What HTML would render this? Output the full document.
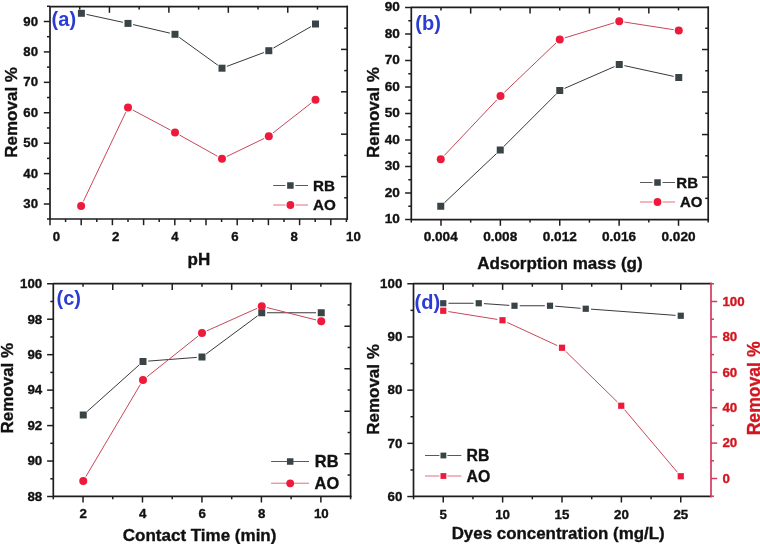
<!DOCTYPE html>
<html><head><meta charset="utf-8"><style>
html,body{margin:0;padding:0;background:#fff;}
body{width:760px;height:544px;overflow:hidden;}
svg{display:block;will-change:transform;}
text{font-family:"Liberation Sans",sans-serif;font-weight:bold;}
</style></head><body>
<svg width="760" height="544" viewBox="0 0 760 544">
<rect width="760" height="544" fill="#fff"/>
<path d="M347.2,6.6 H50 V219 H347.2" stroke="#1e1e1e" stroke-width="1.7" fill="none" stroke-linecap="square" stroke-linejoin="round"/>
<path d="M347.2,6.6 V219" stroke="#1e1e1e" stroke-width="1.7" fill="none" stroke-linecap="square"/>
<line x1="43.80" y1="21.50" x2="50.00" y2="21.50" stroke="#1e1e1e" stroke-width="1.5"/>
<line x1="43.80" y1="51.92" x2="50.00" y2="51.92" stroke="#1e1e1e" stroke-width="1.5"/>
<line x1="43.80" y1="82.34" x2="50.00" y2="82.34" stroke="#1e1e1e" stroke-width="1.5"/>
<line x1="43.80" y1="112.76" x2="50.00" y2="112.76" stroke="#1e1e1e" stroke-width="1.5"/>
<line x1="43.80" y1="143.18" x2="50.00" y2="143.18" stroke="#1e1e1e" stroke-width="1.5"/>
<line x1="43.80" y1="173.60" x2="50.00" y2="173.60" stroke="#1e1e1e" stroke-width="1.5"/>
<line x1="43.80" y1="204.02" x2="50.00" y2="204.02" stroke="#1e1e1e" stroke-width="1.5"/>
<line x1="47.00" y1="36.71" x2="50.00" y2="36.71" stroke="#1e1e1e" stroke-width="1.5"/>
<line x1="47.00" y1="67.13" x2="50.00" y2="67.13" stroke="#1e1e1e" stroke-width="1.5"/>
<line x1="47.00" y1="97.55" x2="50.00" y2="97.55" stroke="#1e1e1e" stroke-width="1.5"/>
<line x1="47.00" y1="127.97" x2="50.00" y2="127.97" stroke="#1e1e1e" stroke-width="1.5"/>
<line x1="47.00" y1="158.39" x2="50.00" y2="158.39" stroke="#1e1e1e" stroke-width="1.5"/>
<line x1="47.00" y1="188.81" x2="50.00" y2="188.81" stroke="#1e1e1e" stroke-width="1.5"/>
<line x1="47.00" y1="6.29" x2="50.00" y2="6.29" stroke="#1e1e1e" stroke-width="1.5"/>
<line x1="47.00" y1="219.00" x2="50.00" y2="219.00" stroke="#1e1e1e" stroke-width="1.5"/>
<text x="38.00" y="25.63" font-size="13.2" text-anchor="end" fill="#111" stroke="#111" stroke-width="0.35">90</text>
<text x="38.00" y="56.05" font-size="13.2" text-anchor="end" fill="#111" stroke="#111" stroke-width="0.35">80</text>
<text x="38.00" y="86.47" font-size="13.2" text-anchor="end" fill="#111" stroke="#111" stroke-width="0.35">70</text>
<text x="38.00" y="116.89" font-size="13.2" text-anchor="end" fill="#111" stroke="#111" stroke-width="0.35">60</text>
<text x="38.00" y="147.31" font-size="13.2" text-anchor="end" fill="#111" stroke="#111" stroke-width="0.35">50</text>
<text x="38.00" y="177.73" font-size="13.2" text-anchor="end" fill="#111" stroke="#111" stroke-width="0.35">40</text>
<text x="38.00" y="208.15" font-size="13.2" text-anchor="end" fill="#111" stroke="#111" stroke-width="0.35">30</text>
<line x1="50.00" y1="219.00" x2="50.00" y2="225.20" stroke="#1e1e1e" stroke-width="1.5"/>
<line x1="81.20" y1="219.00" x2="81.20" y2="225.20" stroke="#1e1e1e" stroke-width="1.5"/>
<line x1="112.40" y1="219.00" x2="112.40" y2="225.20" stroke="#1e1e1e" stroke-width="1.5"/>
<line x1="143.60" y1="219.00" x2="143.60" y2="225.20" stroke="#1e1e1e" stroke-width="1.5"/>
<line x1="174.80" y1="219.00" x2="174.80" y2="225.20" stroke="#1e1e1e" stroke-width="1.5"/>
<line x1="206.00" y1="219.00" x2="206.00" y2="225.20" stroke="#1e1e1e" stroke-width="1.5"/>
<line x1="237.20" y1="219.00" x2="237.20" y2="225.20" stroke="#1e1e1e" stroke-width="1.5"/>
<line x1="268.40" y1="219.00" x2="268.40" y2="225.20" stroke="#1e1e1e" stroke-width="1.5"/>
<line x1="299.60" y1="219.00" x2="299.60" y2="225.20" stroke="#1e1e1e" stroke-width="1.5"/>
<line x1="330.80" y1="219.00" x2="330.80" y2="225.20" stroke="#1e1e1e" stroke-width="1.5"/>
<line x1="65.60" y1="219.00" x2="65.60" y2="222.00" stroke="#1e1e1e" stroke-width="1.5"/>
<line x1="96.80" y1="219.00" x2="96.80" y2="222.00" stroke="#1e1e1e" stroke-width="1.5"/>
<line x1="128.00" y1="219.00" x2="128.00" y2="222.00" stroke="#1e1e1e" stroke-width="1.5"/>
<line x1="159.20" y1="219.00" x2="159.20" y2="222.00" stroke="#1e1e1e" stroke-width="1.5"/>
<line x1="190.40" y1="219.00" x2="190.40" y2="222.00" stroke="#1e1e1e" stroke-width="1.5"/>
<line x1="221.60" y1="219.00" x2="221.60" y2="222.00" stroke="#1e1e1e" stroke-width="1.5"/>
<line x1="252.80" y1="219.00" x2="252.80" y2="222.00" stroke="#1e1e1e" stroke-width="1.5"/>
<line x1="284.00" y1="219.00" x2="284.00" y2="222.00" stroke="#1e1e1e" stroke-width="1.5"/>
<line x1="315.20" y1="219.00" x2="315.20" y2="222.00" stroke="#1e1e1e" stroke-width="1.5"/>
<line x1="346.40" y1="219.00" x2="346.40" y2="222.00" stroke="#1e1e1e" stroke-width="1.5"/>
<text x="56.30" y="241.30" font-size="13.2" text-anchor="middle" fill="#111" stroke="#111" stroke-width="0.35">0</text>
<text x="115.60" y="241.30" font-size="13.2" text-anchor="middle" fill="#111" stroke="#111" stroke-width="0.35">2</text>
<text x="174.90" y="241.30" font-size="13.2" text-anchor="middle" fill="#111" stroke="#111" stroke-width="0.35">4</text>
<text x="235.00" y="241.30" font-size="13.2" text-anchor="middle" fill="#111" stroke="#111" stroke-width="0.35">6</text>
<text x="294.20" y="241.30" font-size="13.2" text-anchor="middle" fill="#111" stroke="#111" stroke-width="0.35">8</text>
<text x="353.40" y="241.30" font-size="13.2" text-anchor="middle" fill="#111" stroke="#111" stroke-width="0.35">10</text>
<line x1="109.44" y1="6.60" x2="109.44" y2="12.80" stroke="#1e1e1e" stroke-width="1.5"/>
<line x1="168.88" y1="6.60" x2="168.88" y2="12.80" stroke="#1e1e1e" stroke-width="1.5"/>
<line x1="228.32" y1="6.60" x2="228.32" y2="12.80" stroke="#1e1e1e" stroke-width="1.5"/>
<line x1="287.76" y1="6.60" x2="287.76" y2="12.80" stroke="#1e1e1e" stroke-width="1.5"/>
<line x1="79.72" y1="6.60" x2="79.72" y2="9.60" stroke="#1e1e1e" stroke-width="1.5"/>
<line x1="139.16" y1="6.60" x2="139.16" y2="9.60" stroke="#1e1e1e" stroke-width="1.5"/>
<line x1="198.60" y1="6.60" x2="198.60" y2="9.60" stroke="#1e1e1e" stroke-width="1.5"/>
<line x1="258.04" y1="6.60" x2="258.04" y2="9.60" stroke="#1e1e1e" stroke-width="1.5"/>
<line x1="317.48" y1="6.60" x2="317.48" y2="9.60" stroke="#1e1e1e" stroke-width="1.5"/>
<line x1="344.20" y1="28.20" x2="347.20" y2="28.20" stroke="#1e1e1e" stroke-width="1.5"/>
<line x1="341.00" y1="49.40" x2="347.20" y2="49.40" stroke="#1e1e1e" stroke-width="1.5"/>
<line x1="344.20" y1="70.60" x2="347.20" y2="70.60" stroke="#1e1e1e" stroke-width="1.5"/>
<line x1="341.00" y1="91.80" x2="347.20" y2="91.80" stroke="#1e1e1e" stroke-width="1.5"/>
<line x1="344.20" y1="113.00" x2="347.20" y2="113.00" stroke="#1e1e1e" stroke-width="1.5"/>
<line x1="341.00" y1="134.20" x2="347.20" y2="134.20" stroke="#1e1e1e" stroke-width="1.5"/>
<line x1="344.20" y1="155.40" x2="347.20" y2="155.40" stroke="#1e1e1e" stroke-width="1.5"/>
<line x1="341.00" y1="176.60" x2="347.20" y2="176.60" stroke="#1e1e1e" stroke-width="1.5"/>
<line x1="344.20" y1="197.80" x2="347.20" y2="197.80" stroke="#1e1e1e" stroke-width="1.5"/>
<line x1="86.48" y1="14.40" x2="122.92" y2="22.30" stroke="#3a3a3a" stroke-width="1.0"/>
<line x1="133.07" y1="24.57" x2="169.93" y2="33.13" stroke="#3a3a3a" stroke-width="1.0"/>
<line x1="179.22" y1="37.34" x2="217.78" y2="65.16" stroke="#3a3a3a" stroke-width="1.0"/>
<line x1="226.87" y1="66.38" x2="263.93" y2="52.52" stroke="#3a3a3a" stroke-width="1.0"/>
<line x1="273.31" y1="48.12" x2="310.99" y2="26.58" stroke="#3a3a3a" stroke-width="1.0"/>
<line x1="83.33" y1="201.40" x2="125.77" y2="112.20" stroke="#c8485a" stroke-width="1.0"/>
<line x1="132.59" y1="109.94" x2="170.41" y2="130.06" stroke="#c8485a" stroke-width="1.0"/>
<line x1="179.54" y1="135.04" x2="217.46" y2="156.26" stroke="#c8485a" stroke-width="1.0"/>
<line x1="226.68" y1="156.54" x2="264.12" y2="138.46" stroke="#c8485a" stroke-width="1.0"/>
<line x1="272.90" y1="133.00" x2="311.40" y2="102.90" stroke="#c8485a" stroke-width="1.0"/>
<rect x="77.90" y="9.80" width="7" height="7" fill="#3a4446"/>
<rect x="124.50" y="19.90" width="7" height="7" fill="#3a4446"/>
<rect x="171.50" y="30.80" width="7" height="7" fill="#3a4446"/>
<rect x="218.50" y="64.70" width="7" height="7" fill="#3a4446"/>
<rect x="265.30" y="47.20" width="7" height="7" fill="#3a4446"/>
<rect x="312.00" y="20.50" width="7" height="7" fill="#3a4446"/>
<circle cx="81.10" cy="206.10" r="4.0" fill="#ee1a3c"/>
<circle cx="128.00" cy="107.50" r="4.0" fill="#ee1a3c"/>
<circle cx="175.00" cy="132.50" r="4.0" fill="#ee1a3c"/>
<circle cx="222.00" cy="158.80" r="4.0" fill="#ee1a3c"/>
<circle cx="268.80" cy="136.20" r="4.0" fill="#ee1a3c"/>
<circle cx="315.50" cy="99.70" r="4.0" fill="#ee1a3c"/>
<line x1="273.20" y1="185.50" x2="285.40" y2="185.50" stroke="#5a5a5a" stroke-width="1.0"/>
<line x1="295.40" y1="185.50" x2="308.00" y2="185.50" stroke="#5a5a5a" stroke-width="1.0"/>
<rect x="287.15" y="182.25" width="6.5" height="6.5" fill="#3a4446"/>
<line x1="273.20" y1="205.00" x2="285.40" y2="205.00" stroke="#e89aa4" stroke-width="1.4"/>
<line x1="295.40" y1="205.00" x2="308.00" y2="205.00" stroke="#e89aa4" stroke-width="1.4"/>
<circle cx="290.40" cy="205.00" r="3.9" fill="#ee1a3c"/>
<text x="313.00" y="190.97" font-size="15.2" text-anchor="start" fill="#111" stroke="#111" stroke-width="0.35">RB</text>
<text x="313.00" y="210.47" font-size="15.2" text-anchor="start" fill="#111" stroke="#111" stroke-width="0.35">AO</text>
<text x="51.60" y="26.00" font-size="20" text-anchor="start" fill="#2a3cd4">(a)</text>
<text x="0" y="0" font-size="17.0" text-anchor="middle" fill="#111" stroke="#111" stroke-width="0.35" transform="translate(16.60,112.40) rotate(-90)">Removal %</text>
<text x="198.90" y="265.00" font-size="17.0" text-anchor="middle" fill="#111" stroke="#111" stroke-width="0.35">pH</text>
<path d="M708.2,7.4 H411.3 V219.6 H708.2" stroke="#1e1e1e" stroke-width="1.7" fill="none" stroke-linecap="square" stroke-linejoin="round"/>
<path d="M708.2,7.4 V219.6" stroke="#1e1e1e" stroke-width="1.7" fill="none" stroke-linecap="square"/>
<line x1="405.10" y1="7.50" x2="411.30" y2="7.50" stroke="#1e1e1e" stroke-width="1.5"/>
<line x1="405.10" y1="34.00" x2="411.30" y2="34.00" stroke="#1e1e1e" stroke-width="1.5"/>
<line x1="405.10" y1="60.50" x2="411.30" y2="60.50" stroke="#1e1e1e" stroke-width="1.5"/>
<line x1="405.10" y1="87.00" x2="411.30" y2="87.00" stroke="#1e1e1e" stroke-width="1.5"/>
<line x1="405.10" y1="113.50" x2="411.30" y2="113.50" stroke="#1e1e1e" stroke-width="1.5"/>
<line x1="405.10" y1="140.00" x2="411.30" y2="140.00" stroke="#1e1e1e" stroke-width="1.5"/>
<line x1="405.10" y1="166.50" x2="411.30" y2="166.50" stroke="#1e1e1e" stroke-width="1.5"/>
<line x1="405.10" y1="193.00" x2="411.30" y2="193.00" stroke="#1e1e1e" stroke-width="1.5"/>
<line x1="405.10" y1="219.50" x2="411.30" y2="219.50" stroke="#1e1e1e" stroke-width="1.5"/>
<line x1="408.30" y1="20.75" x2="411.30" y2="20.75" stroke="#1e1e1e" stroke-width="1.5"/>
<line x1="408.30" y1="47.25" x2="411.30" y2="47.25" stroke="#1e1e1e" stroke-width="1.5"/>
<line x1="408.30" y1="73.75" x2="411.30" y2="73.75" stroke="#1e1e1e" stroke-width="1.5"/>
<line x1="408.30" y1="100.25" x2="411.30" y2="100.25" stroke="#1e1e1e" stroke-width="1.5"/>
<line x1="408.30" y1="126.75" x2="411.30" y2="126.75" stroke="#1e1e1e" stroke-width="1.5"/>
<line x1="408.30" y1="153.25" x2="411.30" y2="153.25" stroke="#1e1e1e" stroke-width="1.5"/>
<line x1="408.30" y1="179.75" x2="411.30" y2="179.75" stroke="#1e1e1e" stroke-width="1.5"/>
<line x1="408.30" y1="206.25" x2="411.30" y2="206.25" stroke="#1e1e1e" stroke-width="1.5"/>
<text x="399.80" y="11.47" font-size="13.6" text-anchor="end" fill="#111" stroke="#111" stroke-width="0.35">90</text>
<text x="399.80" y="37.97" font-size="13.6" text-anchor="end" fill="#111" stroke="#111" stroke-width="0.35">80</text>
<text x="399.80" y="64.47" font-size="13.6" text-anchor="end" fill="#111" stroke="#111" stroke-width="0.35">70</text>
<text x="399.80" y="90.97" font-size="13.6" text-anchor="end" fill="#111" stroke="#111" stroke-width="0.35">60</text>
<text x="399.80" y="117.47" font-size="13.6" text-anchor="end" fill="#111" stroke="#111" stroke-width="0.35">50</text>
<text x="399.80" y="143.97" font-size="13.6" text-anchor="end" fill="#111" stroke="#111" stroke-width="0.35">40</text>
<text x="399.80" y="170.47" font-size="13.6" text-anchor="end" fill="#111" stroke="#111" stroke-width="0.35">30</text>
<text x="399.80" y="196.97" font-size="13.6" text-anchor="end" fill="#111" stroke="#111" stroke-width="0.35">20</text>
<text x="399.80" y="223.47" font-size="13.6" text-anchor="end" fill="#111" stroke="#111" stroke-width="0.35">10</text>
<line x1="440.99" y1="219.60" x2="440.99" y2="225.80" stroke="#1e1e1e" stroke-width="1.5"/>
<line x1="500.37" y1="219.60" x2="500.37" y2="225.80" stroke="#1e1e1e" stroke-width="1.5"/>
<line x1="559.75" y1="219.60" x2="559.75" y2="225.80" stroke="#1e1e1e" stroke-width="1.5"/>
<line x1="619.13" y1="219.60" x2="619.13" y2="225.80" stroke="#1e1e1e" stroke-width="1.5"/>
<line x1="678.51" y1="219.60" x2="678.51" y2="225.80" stroke="#1e1e1e" stroke-width="1.5"/>
<line x1="411.30" y1="219.60" x2="411.30" y2="222.60" stroke="#1e1e1e" stroke-width="1.5"/>
<line x1="470.68" y1="219.60" x2="470.68" y2="222.60" stroke="#1e1e1e" stroke-width="1.5"/>
<line x1="530.06" y1="219.60" x2="530.06" y2="222.60" stroke="#1e1e1e" stroke-width="1.5"/>
<line x1="589.44" y1="219.60" x2="589.44" y2="222.60" stroke="#1e1e1e" stroke-width="1.5"/>
<line x1="648.82" y1="219.60" x2="648.82" y2="222.60" stroke="#1e1e1e" stroke-width="1.5"/>
<line x1="708.20" y1="219.60" x2="708.20" y2="222.60" stroke="#1e1e1e" stroke-width="1.5"/>
<text x="440.70" y="241.30" font-size="13.6" text-anchor="middle" fill="#111" stroke="#111" stroke-width="0.35">0.004</text>
<text x="500.20" y="241.30" font-size="13.6" text-anchor="middle" fill="#111" stroke="#111" stroke-width="0.35">0.008</text>
<text x="559.80" y="241.30" font-size="13.6" text-anchor="middle" fill="#111" stroke="#111" stroke-width="0.35">0.012</text>
<text x="619.00" y="241.30" font-size="13.6" text-anchor="middle" fill="#111" stroke="#111" stroke-width="0.35">0.016</text>
<text x="678.50" y="241.30" font-size="13.6" text-anchor="middle" fill="#111" stroke="#111" stroke-width="0.35">0.020</text>
<line x1="470.68" y1="7.40" x2="470.68" y2="13.60" stroke="#1e1e1e" stroke-width="1.5"/>
<line x1="530.06" y1="7.40" x2="530.06" y2="13.60" stroke="#1e1e1e" stroke-width="1.5"/>
<line x1="589.44" y1="7.40" x2="589.44" y2="13.60" stroke="#1e1e1e" stroke-width="1.5"/>
<line x1="648.82" y1="7.40" x2="648.82" y2="13.60" stroke="#1e1e1e" stroke-width="1.5"/>
<line x1="440.99" y1="7.40" x2="440.99" y2="10.40" stroke="#1e1e1e" stroke-width="1.5"/>
<line x1="500.37" y1="7.40" x2="500.37" y2="10.40" stroke="#1e1e1e" stroke-width="1.5"/>
<line x1="559.75" y1="7.40" x2="559.75" y2="10.40" stroke="#1e1e1e" stroke-width="1.5"/>
<line x1="619.13" y1="7.40" x2="619.13" y2="10.40" stroke="#1e1e1e" stroke-width="1.5"/>
<line x1="678.51" y1="7.40" x2="678.51" y2="10.40" stroke="#1e1e1e" stroke-width="1.5"/>
<line x1="705.20" y1="28.26" x2="708.20" y2="28.26" stroke="#1e1e1e" stroke-width="1.5"/>
<line x1="702.00" y1="49.52" x2="708.20" y2="49.52" stroke="#1e1e1e" stroke-width="1.5"/>
<line x1="705.20" y1="70.78" x2="708.20" y2="70.78" stroke="#1e1e1e" stroke-width="1.5"/>
<line x1="702.00" y1="92.04" x2="708.20" y2="92.04" stroke="#1e1e1e" stroke-width="1.5"/>
<line x1="705.20" y1="113.30" x2="708.20" y2="113.30" stroke="#1e1e1e" stroke-width="1.5"/>
<line x1="702.00" y1="134.56" x2="708.20" y2="134.56" stroke="#1e1e1e" stroke-width="1.5"/>
<line x1="705.20" y1="155.82" x2="708.20" y2="155.82" stroke="#1e1e1e" stroke-width="1.5"/>
<line x1="702.00" y1="177.08" x2="708.20" y2="177.08" stroke="#1e1e1e" stroke-width="1.5"/>
<line x1="705.20" y1="198.34" x2="708.20" y2="198.34" stroke="#1e1e1e" stroke-width="1.5"/>
<line x1="444.53" y1="202.68" x2="496.47" y2="153.57" stroke="#3a3a3a" stroke-width="1.0"/>
<line x1="503.93" y1="146.32" x2="556.07" y2="94.18" stroke="#3a3a3a" stroke-width="1.0"/>
<line x1="564.51" y1="88.42" x2="614.49" y2="66.58" stroke="#3a3a3a" stroke-width="1.0"/>
<line x1="624.33" y1="65.61" x2="673.67" y2="76.39" stroke="#3a3a3a" stroke-width="1.0"/>
<line x1="444.32" y1="155.47" x2="496.93" y2="99.78" stroke="#c8485a" stroke-width="1.0"/>
<line x1="504.26" y1="92.41" x2="555.99" y2="42.99" stroke="#c8485a" stroke-width="1.0"/>
<line x1="564.72" y1="37.88" x2="614.28" y2="22.77" stroke="#c8485a" stroke-width="1.0"/>
<line x1="624.39" y1="22.05" x2="673.61" y2="29.70" stroke="#c8485a" stroke-width="1.0"/>
<rect x="437.25" y="202.75" width="7" height="7" fill="#3a4446"/>
<rect x="496.75" y="146.50" width="7" height="7" fill="#3a4446"/>
<rect x="556.25" y="87.00" width="7" height="7" fill="#3a4446"/>
<rect x="615.75" y="61.00" width="7" height="7" fill="#3a4446"/>
<rect x="675.25" y="74.00" width="7" height="7" fill="#3a4446"/>
<circle cx="440.75" cy="159.25" r="4.0" fill="#ee1a3c"/>
<circle cx="500.50" cy="96.00" r="4.0" fill="#ee1a3c"/>
<circle cx="559.75" cy="39.40" r="4.0" fill="#ee1a3c"/>
<circle cx="619.25" cy="21.25" r="4.0" fill="#ee1a3c"/>
<circle cx="678.75" cy="30.50" r="4.0" fill="#ee1a3c"/>
<line x1="640.00" y1="182.50" x2="652.50" y2="182.50" stroke="#5a5a5a" stroke-width="1.0"/>
<line x1="662.50" y1="182.50" x2="675.00" y2="182.50" stroke="#5a5a5a" stroke-width="1.0"/>
<rect x="654.25" y="179.25" width="6.5" height="6.5" fill="#3a4446"/>
<line x1="640.00" y1="202.00" x2="652.50" y2="202.00" stroke="#e89aa4" stroke-width="1.4"/>
<line x1="662.50" y1="202.00" x2="675.00" y2="202.00" stroke="#e89aa4" stroke-width="1.4"/>
<circle cx="657.50" cy="202.00" r="3.9" fill="#ee1a3c"/>
<text x="676.30" y="187.90" font-size="15.0" text-anchor="start" fill="#111" stroke="#111" stroke-width="0.35">RB</text>
<text x="680.00" y="207.40" font-size="15.0" text-anchor="start" fill="#111" stroke="#111" stroke-width="0.35">AO</text>
<text x="415.30" y="29.70" font-size="20" text-anchor="start" fill="#2a3cd4">(b)</text>
<text x="0" y="0" font-size="17.0" text-anchor="middle" fill="#111" stroke="#111" stroke-width="0.35" transform="translate(379.40,112.60) rotate(-90)">Removal %</text>
<text x="560.00" y="268.80" font-size="17.0" text-anchor="middle" fill="#111" stroke="#111" stroke-width="0.35">Adsorption mass (g)</text>
<path d="M350.6,283.7 H53.3 V496.3 H350.6" stroke="#1e1e1e" stroke-width="1.7" fill="none" stroke-linecap="square" stroke-linejoin="round"/>
<path d="M350.6,283.7 V496.3" stroke="#1e1e1e" stroke-width="1.7" fill="none" stroke-linecap="square"/>
<line x1="47.10" y1="283.75" x2="53.30" y2="283.75" stroke="#1e1e1e" stroke-width="1.5"/>
<line x1="47.10" y1="319.21" x2="53.30" y2="319.21" stroke="#1e1e1e" stroke-width="1.5"/>
<line x1="47.10" y1="354.67" x2="53.30" y2="354.67" stroke="#1e1e1e" stroke-width="1.5"/>
<line x1="47.10" y1="390.13" x2="53.30" y2="390.13" stroke="#1e1e1e" stroke-width="1.5"/>
<line x1="47.10" y1="425.59" x2="53.30" y2="425.59" stroke="#1e1e1e" stroke-width="1.5"/>
<line x1="47.10" y1="461.05" x2="53.30" y2="461.05" stroke="#1e1e1e" stroke-width="1.5"/>
<line x1="47.10" y1="496.51" x2="53.30" y2="496.51" stroke="#1e1e1e" stroke-width="1.5"/>
<line x1="50.30" y1="301.48" x2="53.30" y2="301.48" stroke="#1e1e1e" stroke-width="1.5"/>
<line x1="50.30" y1="336.94" x2="53.30" y2="336.94" stroke="#1e1e1e" stroke-width="1.5"/>
<line x1="50.30" y1="372.40" x2="53.30" y2="372.40" stroke="#1e1e1e" stroke-width="1.5"/>
<line x1="50.30" y1="407.86" x2="53.30" y2="407.86" stroke="#1e1e1e" stroke-width="1.5"/>
<line x1="50.30" y1="443.32" x2="53.30" y2="443.32" stroke="#1e1e1e" stroke-width="1.5"/>
<line x1="50.30" y1="478.78" x2="53.30" y2="478.78" stroke="#1e1e1e" stroke-width="1.5"/>
<text x="42.20" y="288.11" font-size="13.3" text-anchor="end" fill="#111" stroke="#111" stroke-width="0.35">100</text>
<text x="42.20" y="323.57" font-size="13.3" text-anchor="end" fill="#111" stroke="#111" stroke-width="0.35">98</text>
<text x="42.20" y="359.03" font-size="13.3" text-anchor="end" fill="#111" stroke="#111" stroke-width="0.35">96</text>
<text x="42.20" y="394.49" font-size="13.3" text-anchor="end" fill="#111" stroke="#111" stroke-width="0.35">94</text>
<text x="42.20" y="429.95" font-size="13.3" text-anchor="end" fill="#111" stroke="#111" stroke-width="0.35">92</text>
<text x="42.20" y="465.41" font-size="13.3" text-anchor="end" fill="#111" stroke="#111" stroke-width="0.35">90</text>
<text x="42.20" y="500.87" font-size="13.3" text-anchor="end" fill="#111" stroke="#111" stroke-width="0.35">88</text>
<line x1="83.03" y1="496.30" x2="83.03" y2="502.50" stroke="#1e1e1e" stroke-width="1.5"/>
<line x1="142.49" y1="496.30" x2="142.49" y2="502.50" stroke="#1e1e1e" stroke-width="1.5"/>
<line x1="201.95" y1="496.30" x2="201.95" y2="502.50" stroke="#1e1e1e" stroke-width="1.5"/>
<line x1="261.41" y1="496.30" x2="261.41" y2="502.50" stroke="#1e1e1e" stroke-width="1.5"/>
<line x1="320.87" y1="496.30" x2="320.87" y2="502.50" stroke="#1e1e1e" stroke-width="1.5"/>
<line x1="53.30" y1="496.30" x2="53.30" y2="499.30" stroke="#1e1e1e" stroke-width="1.5"/>
<line x1="112.76" y1="496.30" x2="112.76" y2="499.30" stroke="#1e1e1e" stroke-width="1.5"/>
<line x1="172.22" y1="496.30" x2="172.22" y2="499.30" stroke="#1e1e1e" stroke-width="1.5"/>
<line x1="231.68" y1="496.30" x2="231.68" y2="499.30" stroke="#1e1e1e" stroke-width="1.5"/>
<line x1="291.14" y1="496.30" x2="291.14" y2="499.30" stroke="#1e1e1e" stroke-width="1.5"/>
<line x1="350.60" y1="496.30" x2="350.60" y2="499.30" stroke="#1e1e1e" stroke-width="1.5"/>
<text x="83.30" y="518.40" font-size="13.3" text-anchor="middle" fill="#111" stroke="#111" stroke-width="0.35">2</text>
<text x="142.80" y="518.40" font-size="13.3" text-anchor="middle" fill="#111" stroke="#111" stroke-width="0.35">4</text>
<text x="202.20" y="518.40" font-size="13.3" text-anchor="middle" fill="#111" stroke="#111" stroke-width="0.35">6</text>
<text x="261.80" y="518.40" font-size="13.3" text-anchor="middle" fill="#111" stroke="#111" stroke-width="0.35">8</text>
<text x="321.30" y="518.40" font-size="13.3" text-anchor="middle" fill="#111" stroke="#111" stroke-width="0.35">10</text>
<line x1="112.76" y1="283.70" x2="112.76" y2="289.90" stroke="#1e1e1e" stroke-width="1.5"/>
<line x1="172.22" y1="283.70" x2="172.22" y2="289.90" stroke="#1e1e1e" stroke-width="1.5"/>
<line x1="231.68" y1="283.70" x2="231.68" y2="289.90" stroke="#1e1e1e" stroke-width="1.5"/>
<line x1="291.14" y1="283.70" x2="291.14" y2="289.90" stroke="#1e1e1e" stroke-width="1.5"/>
<line x1="83.03" y1="283.70" x2="83.03" y2="286.70" stroke="#1e1e1e" stroke-width="1.5"/>
<line x1="142.49" y1="283.70" x2="142.49" y2="286.70" stroke="#1e1e1e" stroke-width="1.5"/>
<line x1="201.95" y1="283.70" x2="201.95" y2="286.70" stroke="#1e1e1e" stroke-width="1.5"/>
<line x1="261.41" y1="283.70" x2="261.41" y2="286.70" stroke="#1e1e1e" stroke-width="1.5"/>
<line x1="320.87" y1="283.70" x2="320.87" y2="286.70" stroke="#1e1e1e" stroke-width="1.5"/>
<line x1="347.60" y1="304.96" x2="350.60" y2="304.96" stroke="#1e1e1e" stroke-width="1.5"/>
<line x1="344.40" y1="326.22" x2="350.60" y2="326.22" stroke="#1e1e1e" stroke-width="1.5"/>
<line x1="347.60" y1="347.48" x2="350.60" y2="347.48" stroke="#1e1e1e" stroke-width="1.5"/>
<line x1="344.40" y1="368.74" x2="350.60" y2="368.74" stroke="#1e1e1e" stroke-width="1.5"/>
<line x1="347.60" y1="390.00" x2="350.60" y2="390.00" stroke="#1e1e1e" stroke-width="1.5"/>
<line x1="344.40" y1="411.26" x2="350.60" y2="411.26" stroke="#1e1e1e" stroke-width="1.5"/>
<line x1="347.60" y1="432.52" x2="350.60" y2="432.52" stroke="#1e1e1e" stroke-width="1.5"/>
<line x1="344.40" y1="453.78" x2="350.60" y2="453.78" stroke="#1e1e1e" stroke-width="1.5"/>
<line x1="347.60" y1="475.04" x2="350.60" y2="475.04" stroke="#1e1e1e" stroke-width="1.5"/>
<line x1="87.12" y1="411.53" x2="139.13" y2="364.97" stroke="#3a3a3a" stroke-width="1.0"/>
<line x1="148.18" y1="361.10" x2="196.82" y2="357.40" stroke="#3a3a3a" stroke-width="1.0"/>
<line x1="206.18" y1="353.91" x2="257.57" y2="315.84" stroke="#3a3a3a" stroke-width="1.0"/>
<line x1="266.95" y1="312.75" x2="316.05" y2="312.75" stroke="#3a3a3a" stroke-width="1.0"/>
<line x1="85.90" y1="476.52" x2="140.35" y2="384.48" stroke="#c8485a" stroke-width="1.0"/>
<line x1="147.07" y1="376.76" x2="197.93" y2="336.24" stroke="#c8485a" stroke-width="1.0"/>
<line x1="206.75" y1="330.88" x2="257.00" y2="308.37" stroke="#c8485a" stroke-width="1.0"/>
<line x1="266.79" y1="307.52" x2="316.21" y2="319.98" stroke="#c8485a" stroke-width="1.0"/>
<rect x="79.75" y="411.50" width="7" height="7" fill="#3a4446"/>
<rect x="139.50" y="358.00" width="7" height="7" fill="#3a4446"/>
<rect x="198.50" y="353.50" width="7" height="7" fill="#3a4446"/>
<rect x="258.25" y="309.25" width="7" height="7" fill="#3a4446"/>
<rect x="317.75" y="309.25" width="7" height="7" fill="#3a4446"/>
<circle cx="83.25" cy="481.00" r="4.0" fill="#ee1a3c"/>
<circle cx="143.00" cy="380.00" r="4.0" fill="#ee1a3c"/>
<circle cx="202.00" cy="333.00" r="4.0" fill="#ee1a3c"/>
<circle cx="261.75" cy="306.25" r="4.0" fill="#ee1a3c"/>
<circle cx="321.25" cy="321.25" r="4.0" fill="#ee1a3c"/>
<line x1="271.10" y1="461.50" x2="287.20" y2="461.50" stroke="#5a5a5a" stroke-width="1.0"/>
<line x1="293.20" y1="461.50" x2="309.00" y2="461.50" stroke="#5a5a5a" stroke-width="1.0"/>
<rect x="286.95" y="458.25" width="6.5" height="6.5" fill="#3a4446"/>
<line x1="271.10" y1="483.30" x2="287.20" y2="483.30" stroke="#e89aa4" stroke-width="1.4"/>
<line x1="293.20" y1="483.30" x2="309.00" y2="483.30" stroke="#e89aa4" stroke-width="1.4"/>
<circle cx="290.20" cy="483.30" r="3.9" fill="#ee1a3c"/>
<text x="314.80" y="467.40" font-size="16.4" text-anchor="start" fill="#111" stroke="#111" stroke-width="0.35">RB</text>
<text x="314.60" y="489.20" font-size="16.4" text-anchor="start" fill="#111" stroke="#111" stroke-width="0.35">AO</text>
<text x="56.50" y="305.30" font-size="20" text-anchor="start" fill="#2a3cd4">(c)</text>
<text x="0" y="0" font-size="17.0" text-anchor="middle" fill="#111" stroke="#111" stroke-width="0.35" transform="translate(13.40,388.20) rotate(-90)">Removal %</text>
<text x="199.60" y="540.50" font-size="17.0" text-anchor="middle" fill="#111" stroke="#111" stroke-width="0.35">Contact Time (min)</text>
<path d="M711.0,283.7 H413.5 V496.3 H711.0" stroke="#1e1e1e" stroke-width="1.7" fill="none" stroke-linecap="square" stroke-linejoin="round"/>
<path d="M711.0,283.7 V496.3" stroke="#d43a5c" stroke-width="1.7" fill="none" stroke-linecap="square"/>
<line x1="407.30" y1="283.75" x2="413.50" y2="283.75" stroke="#1e1e1e" stroke-width="1.5"/>
<line x1="407.30" y1="336.95" x2="413.50" y2="336.95" stroke="#1e1e1e" stroke-width="1.5"/>
<line x1="407.30" y1="390.15" x2="413.50" y2="390.15" stroke="#1e1e1e" stroke-width="1.5"/>
<line x1="407.30" y1="443.35" x2="413.50" y2="443.35" stroke="#1e1e1e" stroke-width="1.5"/>
<line x1="407.30" y1="496.55" x2="413.50" y2="496.55" stroke="#1e1e1e" stroke-width="1.5"/>
<line x1="410.50" y1="310.35" x2="413.50" y2="310.35" stroke="#1e1e1e" stroke-width="1.5"/>
<line x1="410.50" y1="363.55" x2="413.50" y2="363.55" stroke="#1e1e1e" stroke-width="1.5"/>
<line x1="410.50" y1="416.75" x2="413.50" y2="416.75" stroke="#1e1e1e" stroke-width="1.5"/>
<line x1="410.50" y1="469.95" x2="413.50" y2="469.95" stroke="#1e1e1e" stroke-width="1.5"/>
<text x="402.30" y="287.91" font-size="13.3" text-anchor="end" fill="#111" stroke="#111" stroke-width="0.35">100</text>
<text x="402.30" y="341.11" font-size="13.3" text-anchor="end" fill="#111" stroke="#111" stroke-width="0.35">90</text>
<text x="402.30" y="394.31" font-size="13.3" text-anchor="end" fill="#111" stroke="#111" stroke-width="0.35">80</text>
<text x="402.30" y="447.51" font-size="13.3" text-anchor="end" fill="#111" stroke="#111" stroke-width="0.35">70</text>
<text x="402.30" y="500.71" font-size="13.3" text-anchor="end" fill="#111" stroke="#111" stroke-width="0.35">60</text>
<line x1="443.25" y1="496.30" x2="443.25" y2="502.50" stroke="#1e1e1e" stroke-width="1.5"/>
<line x1="502.63" y1="496.30" x2="502.63" y2="502.50" stroke="#1e1e1e" stroke-width="1.5"/>
<line x1="562.01" y1="496.30" x2="562.01" y2="502.50" stroke="#1e1e1e" stroke-width="1.5"/>
<line x1="621.39" y1="496.30" x2="621.39" y2="502.50" stroke="#1e1e1e" stroke-width="1.5"/>
<line x1="680.77" y1="496.30" x2="680.77" y2="502.50" stroke="#1e1e1e" stroke-width="1.5"/>
<line x1="413.56" y1="496.30" x2="413.56" y2="499.30" stroke="#1e1e1e" stroke-width="1.5"/>
<line x1="472.94" y1="496.30" x2="472.94" y2="499.30" stroke="#1e1e1e" stroke-width="1.5"/>
<line x1="532.32" y1="496.30" x2="532.32" y2="499.30" stroke="#1e1e1e" stroke-width="1.5"/>
<line x1="591.70" y1="496.30" x2="591.70" y2="499.30" stroke="#1e1e1e" stroke-width="1.5"/>
<line x1="651.08" y1="496.30" x2="651.08" y2="499.30" stroke="#1e1e1e" stroke-width="1.5"/>
<text x="443.30" y="518.50" font-size="13.3" text-anchor="middle" fill="#111" stroke="#111" stroke-width="0.35">5</text>
<text x="502.60" y="518.50" font-size="13.3" text-anchor="middle" fill="#111" stroke="#111" stroke-width="0.35">10</text>
<text x="562.00" y="518.50" font-size="13.3" text-anchor="middle" fill="#111" stroke="#111" stroke-width="0.35">15</text>
<text x="621.40" y="518.50" font-size="13.3" text-anchor="middle" fill="#111" stroke="#111" stroke-width="0.35">20</text>
<text x="680.80" y="518.50" font-size="13.3" text-anchor="middle" fill="#111" stroke="#111" stroke-width="0.35">25</text>
<line x1="443.25" y1="283.70" x2="443.25" y2="289.90" stroke="#1e1e1e" stroke-width="1.5"/>
<line x1="502.63" y1="283.70" x2="502.63" y2="289.90" stroke="#1e1e1e" stroke-width="1.5"/>
<line x1="562.01" y1="283.70" x2="562.01" y2="289.90" stroke="#1e1e1e" stroke-width="1.5"/>
<line x1="621.39" y1="283.70" x2="621.39" y2="289.90" stroke="#1e1e1e" stroke-width="1.5"/>
<line x1="680.77" y1="283.70" x2="680.77" y2="289.90" stroke="#1e1e1e" stroke-width="1.5"/>
<line x1="472.94" y1="283.70" x2="472.94" y2="286.70" stroke="#1e1e1e" stroke-width="1.5"/>
<line x1="532.32" y1="283.70" x2="532.32" y2="286.70" stroke="#1e1e1e" stroke-width="1.5"/>
<line x1="591.70" y1="283.70" x2="591.70" y2="286.70" stroke="#1e1e1e" stroke-width="1.5"/>
<line x1="651.08" y1="283.70" x2="651.08" y2="286.70" stroke="#1e1e1e" stroke-width="1.5"/>
<line x1="711.00" y1="496.20" x2="714.00" y2="496.20" stroke="#d43a5c" stroke-width="1.5"/>
<line x1="711.00" y1="478.50" x2="717.20" y2="478.50" stroke="#d43a5c" stroke-width="1.5"/>
<line x1="711.00" y1="460.80" x2="714.00" y2="460.80" stroke="#d43a5c" stroke-width="1.5"/>
<line x1="711.00" y1="443.10" x2="717.20" y2="443.10" stroke="#d43a5c" stroke-width="1.5"/>
<line x1="711.00" y1="425.40" x2="714.00" y2="425.40" stroke="#d43a5c" stroke-width="1.5"/>
<line x1="711.00" y1="407.70" x2="717.20" y2="407.70" stroke="#d43a5c" stroke-width="1.5"/>
<line x1="711.00" y1="390.00" x2="714.00" y2="390.00" stroke="#d43a5c" stroke-width="1.5"/>
<line x1="711.00" y1="372.30" x2="717.20" y2="372.30" stroke="#d43a5c" stroke-width="1.5"/>
<line x1="711.00" y1="354.60" x2="714.00" y2="354.60" stroke="#d43a5c" stroke-width="1.5"/>
<line x1="711.00" y1="336.90" x2="717.20" y2="336.90" stroke="#d43a5c" stroke-width="1.5"/>
<line x1="711.00" y1="319.20" x2="714.00" y2="319.20" stroke="#d43a5c" stroke-width="1.5"/>
<line x1="711.00" y1="301.50" x2="717.20" y2="301.50" stroke="#d43a5c" stroke-width="1.5"/>
<line x1="711.00" y1="283.80" x2="714.00" y2="283.80" stroke="#d43a5c" stroke-width="1.5"/>
<text x="722.40" y="305.86" font-size="13.3" text-anchor="start" fill="#d2161f" stroke="#d2161f" stroke-width="0.35">100</text>
<text x="722.40" y="341.26" font-size="13.3" text-anchor="start" fill="#d2161f" stroke="#d2161f" stroke-width="0.35">80</text>
<text x="722.40" y="376.66" font-size="13.3" text-anchor="start" fill="#d2161f" stroke="#d2161f" stroke-width="0.35">60</text>
<text x="722.40" y="412.06" font-size="13.3" text-anchor="start" fill="#d2161f" stroke="#d2161f" stroke-width="0.35">40</text>
<text x="722.40" y="447.46" font-size="13.3" text-anchor="start" fill="#d2161f" stroke="#d2161f" stroke-width="0.35">20</text>
<text x="722.40" y="482.86" font-size="13.3" text-anchor="start" fill="#d2161f" stroke="#d2161f" stroke-width="0.35">0</text>
<line x1="448.45" y1="303.25" x2="473.55" y2="303.25" stroke="#3a3a3a" stroke-width="1.0"/>
<line x1="483.94" y1="303.61" x2="509.31" y2="305.39" stroke="#3a3a3a" stroke-width="1.0"/>
<line x1="519.70" y1="305.75" x2="544.80" y2="305.75" stroke="#3a3a3a" stroke-width="1.0"/>
<line x1="555.18" y1="306.18" x2="580.57" y2="308.32" stroke="#3a3a3a" stroke-width="1.0"/>
<line x1="590.94" y1="309.13" x2="675.56" y2="315.37" stroke="#3a3a3a" stroke-width="1.0"/>
<line x1="448.38" y1="311.57" x2="497.37" y2="319.43" stroke="#c8485a" stroke-width="1.0"/>
<line x1="507.22" y1="322.43" x2="557.28" y2="345.57" stroke="#c8485a" stroke-width="1.0"/>
<line x1="565.72" y1="351.39" x2="617.53" y2="402.11" stroke="#c8485a" stroke-width="1.0"/>
<line x1="624.60" y1="409.72" x2="677.40" y2="472.28" stroke="#c8485a" stroke-width="1.0"/>
<rect x="440.15" y="300.15" width="6.2" height="6.2" fill="#3a4446"/>
<rect x="475.65" y="300.15" width="6.2" height="6.2" fill="#3a4446"/>
<rect x="511.40" y="302.65" width="6.2" height="6.2" fill="#3a4446"/>
<rect x="546.90" y="302.65" width="6.2" height="6.2" fill="#3a4446"/>
<rect x="582.65" y="305.65" width="6.2" height="6.2" fill="#3a4446"/>
<rect x="677.65" y="312.65" width="6.2" height="6.2" fill="#3a4446"/>
<rect x="440.15" y="307.65" width="6.2" height="6.2" fill="#ee1a3c"/>
<rect x="499.40" y="317.15" width="6.2" height="6.2" fill="#ee1a3c"/>
<rect x="558.90" y="344.65" width="6.2" height="6.2" fill="#ee1a3c"/>
<rect x="618.15" y="402.65" width="6.2" height="6.2" fill="#ee1a3c"/>
<rect x="677.65" y="473.15" width="6.2" height="6.2" fill="#ee1a3c"/>
<line x1="425.00" y1="455.50" x2="439.40" y2="455.50" stroke="#5a5a5a" stroke-width="1.0"/>
<line x1="447.40" y1="455.50" x2="461.30" y2="455.50" stroke="#5a5a5a" stroke-width="1.0"/>
<rect x="440.50" y="452.60" width="5.8" height="5.8" fill="#3a4446"/>
<line x1="425.00" y1="476.00" x2="439.40" y2="476.00" stroke="#e89aa4" stroke-width="1.4"/>
<line x1="447.40" y1="476.00" x2="461.30" y2="476.00" stroke="#e89aa4" stroke-width="1.4"/>
<rect x="440.50" y="473.10" width="5.8" height="5.8" fill="#ee1a3c"/>
<text x="466.60" y="461.19" font-size="15.8" text-anchor="start" fill="#111" stroke="#111" stroke-width="0.35">RB</text>
<text x="466.60" y="481.69" font-size="15.8" text-anchor="start" fill="#111" stroke="#111" stroke-width="0.35">AO</text>
<text x="414.60" y="308.60" font-size="20" text-anchor="start" fill="#2a3cd4">(d)</text>
<text x="0" y="0" font-size="17.0" text-anchor="middle" fill="#111" stroke="#111" stroke-width="0.35" transform="translate(379.20,389.50) rotate(-90)">Removal %</text>
<text x="0" y="0" font-size="17.6" text-anchor="middle" fill="#d2161f" stroke="#d2161f" stroke-width="0.35" transform="translate(759.60,388.40) rotate(-90)">Removal %</text>
<text x="558.20" y="538.60" font-size="16.9" text-anchor="middle" fill="#111" stroke="#111" stroke-width="0.35">Dyes concentration (mg/L)</text>
</svg>
</body></html>
